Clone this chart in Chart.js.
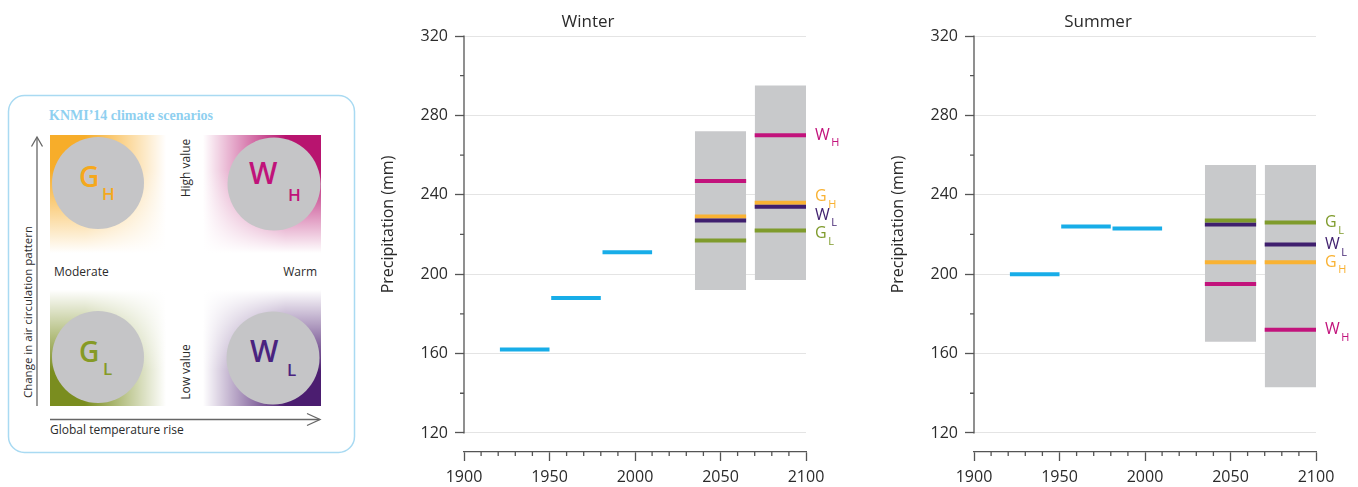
<!DOCTYPE html>
<html>
<head>
<meta charset="utf-8">
<script src="https://cdn.jsdelivr.net/npm/chart.js@4.4.1/dist/chart.umd.min.js"></script>
<style>
  html, body { margin: 0; padding: 0; background: #fff; }
  body { width: 1358px; height: 487px; position: relative; overflow: hidden; font-family: "Open Sans", sans-serif; }
  #panel { position: absolute; left: 0; top: 0; }
  .wrap { position: absolute; top: 0; height: 487px; }
  .wrap canvas { display: block; }
</style>
</head>
<body>

<svg id="panel" width="365" height="487" viewBox="0 0 365 487" font-family="Open Sans, sans-serif">
  <defs>
    <linearGradient id="whiteRight" x1="0" y1="0" x2="1" y2="0">
      <stop offset="0.3" stop-color="#fff" stop-opacity="0"/>
      <stop offset="1" stop-color="#fff" stop-opacity="1"/>
    </linearGradient>
    <linearGradient id="whiteLeft" x1="1" y1="0" x2="0" y2="0">
      <stop offset="0.3" stop-color="#fff" stop-opacity="0"/>
      <stop offset="1" stop-color="#fff" stop-opacity="1"/>
    </linearGradient>
    <linearGradient id="whiteDown" x1="0" y1="0" x2="0" y2="1">
      <stop offset="0.3" stop-color="#fff" stop-opacity="0"/>
      <stop offset="1" stop-color="#fff" stop-opacity="1"/>
    </linearGradient>
    <linearGradient id="whiteUp" x1="0" y1="1" x2="0" y2="0">
      <stop offset="0.3" stop-color="#fff" stop-opacity="0"/>
      <stop offset="1" stop-color="#fff" stop-opacity="1"/>
    </linearGradient>
  </defs>

  <rect x="8.5" y="95.5" width="346" height="357" rx="16" fill="none" stroke="#a9daf2" stroke-width="1.5"/>
  <text x="49" y="120" font-family="Liberation Serif, serif" font-weight="bold" font-size="14" fill="#8fd0f0">KNMI’14 climate scenarios</text>

  <!-- quadrants -->
  <rect x="50" y="135" width="116" height="118" fill="#f7ad2a"/>
  <rect x="50" y="135" width="116" height="118" fill="url(#whiteRight)"/>
  <rect x="50" y="135" width="116" height="118" fill="url(#whiteDown)"/>

  <rect x="203" y="135" width="118" height="118" fill="#b8146f"/>
  <rect x="203" y="135" width="118" height="118" fill="url(#whiteLeft)"/>
  <rect x="203" y="135" width="118" height="118" fill="url(#whiteDown)"/>

  <rect x="50" y="290" width="116" height="116" fill="#7a8d1f"/>
  <rect x="50" y="290" width="116" height="116" fill="url(#whiteRight)"/>
  <rect x="50" y="290" width="116" height="116" fill="url(#whiteUp)"/>

  <rect x="203" y="290" width="118" height="116" fill="#4b1d70"/>
  <rect x="203" y="290" width="118" height="116" fill="url(#whiteLeft)"/>
  <rect x="203" y="290" width="118" height="116" fill="url(#whiteUp)"/>

  <circle cx="98" cy="183" r="46" fill="#c5c5c7"/>
  <circle cx="274" cy="184" r="46.5" fill="#c5c5c7"/>
  <circle cx="98" cy="357" r="46" fill="#c5c5c7"/>
  <circle cx="273" cy="358" r="46.5" fill="#c5c5c7"/>

  <g font-weight="600">
    <text x="79" y="187" font-size="28" fill="#f5a81c">G</text>
    <text x="102" y="200" font-size="17" fill="#f5a81c">H</text>
    <text x="249" y="184" font-size="30" fill="#c0137a">W</text>
    <text x="288" y="201" font-size="17" fill="#c0137a">H</text>
    <text x="79" y="362" font-size="28" fill="#869a26">G</text>
    <text x="103" y="375" font-size="17" fill="#869a26">L</text>
    <text x="250" y="362" font-size="30" fill="#4a237f">W</text>
    <text x="287" y="376" font-size="17" fill="#4a237f">L</text>
  </g>

  <g fill="#2b2b2b">
    <text x="54" y="276" font-size="12">Moderate</text>
    <text x="317" y="276" font-size="12" text-anchor="end">Warm</text>
    <text transform="translate(189.5,168) rotate(-90)" font-size="12" text-anchor="middle">High value</text>
    <text transform="translate(189.5,372) rotate(-90)" font-size="12" text-anchor="middle">Low value</text>
    <text transform="translate(32,312) rotate(-90)" font-size="11.5" text-anchor="middle">Change in air circulation pattern</text>
    <text x="50" y="434" font-size="12">Global temperature rise</text>
  </g>

  <g stroke="#666" stroke-width="1.3" fill="none">
    <line x1="37" y1="406" x2="37" y2="137.5"/>
    <polyline points="31.5,146.5 37,137 42.5,146.5"/>
    <line x1="50" y1="419.5" x2="319.5" y2="419.5"/>
    <polyline points="307,413.5 320,419.5 307,425.5"/>
  </g>
</svg>

<div class="wrap" style="left:370px;width:480px"><canvas id="winter" width="480" height="487"></canvas></div>
<div class="wrap" style="left:880px;width:478px"><canvas id="summer" width="478" height="487"></canvas></div>

<script>
// periods (years)
const histPeriods = [[1921, 1950], [1951, 1980], [1981, 2010]];
const futurePeriods = [[2035, 2065], [2070, 2100]];

// observed precipitation (mm)
const winterHist = [162, 188, 211];
const summerHist = [200, 224, 223];

// natural variability ranges for the future periods
const winterLow = [192, 197];
const winterHigh = [272, 295];
const summerLow = [166, 143];
const summerHigh = [255, 255];

// scenario values per future period
const winterGL = [217, 222];
const winterGH = [229, 236];
const winterWL = [227, 234];
const winterWH = [247, 270];
const summerGL = [227, 226];
const summerGH = [206, 206];
const summerWL = [225, 215];
const summerWH = [195, 172];

// axis ticks
const yTicks = [120, 160, 200, 240, 280, 320];
const xTicks = [1900, 1950, 2000, 2050, 2100];

const BLUE = '#18ade8';
const GREY = '#c8c9cb';
const AXIS = '#555';
const GRID = '#e4e4e4';
const TEXT = '#2b2b2b';
const scenColors = { GL: '#7f9b2c', GH: '#f9b233', WL: '#3f1f6e', WH: '#c2137c' };
const FONT = '"Open Sans", sans-serif';

function segment(period, value, color) {
    return {
        data: [{ x: period[0], y: value }, { x: period[1], y: value }],
        borderColor: color,
        borderWidth: 4,
        borderCapStyle: 'butt',
        pointRadius: 0,
        fill: false,
        order: 1
    };
}

function rangeBox(period, low, high) {
    return {
        data: [{ x: period[0], y: high }, { x: period[1], y: high }],
        borderWidth: 0,
        borderColor: 'rgba(0,0,0,0)',
        backgroundColor: GREY,
        fill: { value: low },
        pointRadius: 0,
        order: 10
    };
}

// axis line, minor ticks, y title and scenario labels
const decor = {
    id: 'decor',
    afterDraw(chart, args, opts) {
        const { ctx, chartArea: area, scales: { x, y } } = chart;
        const top = y.getPixelForValue(yTicks[yTicks.length - 1]);
        const bottom = y.getPixelForValue(yTicks[0]);
        ctx.save();
        ctx.strokeStyle = AXIS;
        ctx.lineWidth = 1.3;
        ctx.beginPath();
        ctx.moveTo(area.left, top - 0.6);
        ctx.lineTo(area.left, bottom + 0.6);
        for (let v = yTicks[0] + 20; v < yTicks[yTicks.length - 1]; v += 40) {
            const py = y.getPixelForValue(v);
            ctx.moveTo(area.left - 4, py);
            ctx.lineTo(area.left, py);
        }
        for (let v = xTicks[0] + 10; v < xTicks[xTicks.length - 1]; v += 10) {
            if (v % 50 === 0) continue;
            const px = x.getPixelForValue(v);
            ctx.moveTo(px, area.bottom);
            ctx.lineTo(px, area.bottom + 4);
        }
        ctx.stroke();

        ctx.fillStyle = TEXT;
        ctx.font = '16px ' + FONT;
        ctx.textAlign = 'center';
        ctx.textBaseline = 'middle';
        ctx.save();
        ctx.translate(18, (top + bottom) / 2 - 10);
        ctx.rotate(-Math.PI / 2);
        ctx.fillText(opts.yTitle, 0, 0);
        ctx.restore();

        // labels at the right, spread so they do not overlap
        const gap = 18.5;
        const items = opts.labels.map(l => Object.assign({ py: y.getPixelForValue(l.value) }, l));
        items.sort((a, b) => a.py - b.py);
        let clusters = items.map(it => ({ items: [it], center: it.py }));
        let merged = true;
        while (merged) {
            merged = false;
            for (let i = 1; i < clusters.length; i++) {
                const a = clusters[i - 1], b = clusters[i];
                const aEnd = a.center + (a.items.length - 1) * gap / 2;
                const bStart = b.center - (b.items.length - 1) * gap / 2;
                if (bStart - aEnd < gap - 1) {
                    const all = a.items.concat(b.items);
                    const c = all.reduce((s, it) => s + it.py, 0) / all.length + 2;
                    clusters.splice(i - 1, 2, { items: all, center: c });
                    merged = true;
                    break;
                }
            }
        }
        ctx.textAlign = 'left';
        clusters.forEach(c => c.items.forEach((it, k) => {
            const ly = c.center + (k - (c.items.length - 1) / 2) * gap;
            const lx = area.right + 9;
            ctx.fillStyle = it.color;
            ctx.font = '16px ' + FONT;
            ctx.fillText(it.main, lx, ly);
            const w = ctx.measureText(it.main).width;
            ctx.font = '11px ' + FONT;
            ctx.fillText(it.sub, lx + w + 1.5, ly + 8);
        }));
        ctx.restore();
    }
};

function makeChart(id, title, hist, low, high, scen, padRight) {
    const datasets = [];
    futurePeriods.forEach((p, i) => datasets.push(rangeBox(p, low[i], high[i])));
    histPeriods.forEach((p, i) => datasets.push(segment(p, hist[i], BLUE)));
    ['GL', 'WL', 'GH', 'WH'].forEach(k => {
        futurePeriods.forEach((p, i) => datasets.push(segment(p, scen[k][i], scenColors[k])));
    });
    const last = futurePeriods.length - 1;
    const labels = Object.keys(scen).map(k => ({
        main: k[0], sub: k[1], color: scenColors[k], value: scen[k][last]
    }));

    return new Chart(document.getElementById(id), {
        type: 'line',
        data: { datasets: datasets },
        plugins: [decor],
        options: {
            responsive: false,
            animation: false,
            events: [],
            layout: { padding: { left: 0, right: padRight, top: 0, bottom: 0 } },
            plugins: {
                legend: { display: false },
                tooltip: { enabled: false },
                title: {
                    display: true,
                    text: title,
                    color: TEXT,
                    font: { family: FONT, size: 17, weight: 'normal' },
                    padding: { top: 12, bottom: 3.6 }
                },
                decor: { yTitle: 'Precipitation (mm)', labels: labels }
            },
            scales: {
                x: {
                    type: 'linear',
                    min: xTicks[0],
                    max: xTicks[xTicks.length - 1],
                    afterBuildTicks: s => { s.ticks = xTicks.map(v => ({ value: v })); },
                    afterFit: s => { s.height = 35; },
                    ticks: {
                        color: TEXT,
                        font: { family: FONT, size: 16 },
                        padding: 7,
                        maxRotation: 0,
                        autoSkip: false,
                        callback: v => String(v)
                    },
                    grid: { drawOnChartArea: false, tickLength: 9, tickColor: AXIS, tickWidth: 1.3 },
                    border: { color: AXIS, width: 1.3 }
                },
                y: {
                    type: 'linear',
                    min: 110.4,
                    max: yTicks[yTicks.length - 1],
                    afterBuildTicks: s => { s.ticks = yTicks.map(v => ({ value: v })); },
                    afterFit: s => { s.width = 94; },
                    ticks: {
                        color: TEXT,
                        font: { family: FONT, size: 16 },
                        padding: 7,
                        callback: v => String(v)
                    },
                    grid: { color: GRID, lineWidth: 1, tickLength: 9, tickColor: AXIS, tickWidth: 1.3 },
                    border: { display: false }
                }
            }
        }
    });
}

makeChart('winter', 'Winter', winterHist, winterLow, winterHigh,
    { GL: winterGL, GH: winterGH, WL: winterWL, WH: winterWH }, 44);
makeChart('summer', 'Summer', summerHist, summerLow, summerHigh,
    { GL: summerGL, GH: summerGH, WL: summerWL, WH: summerWH }, 42);
</script>
</body>
</html>
